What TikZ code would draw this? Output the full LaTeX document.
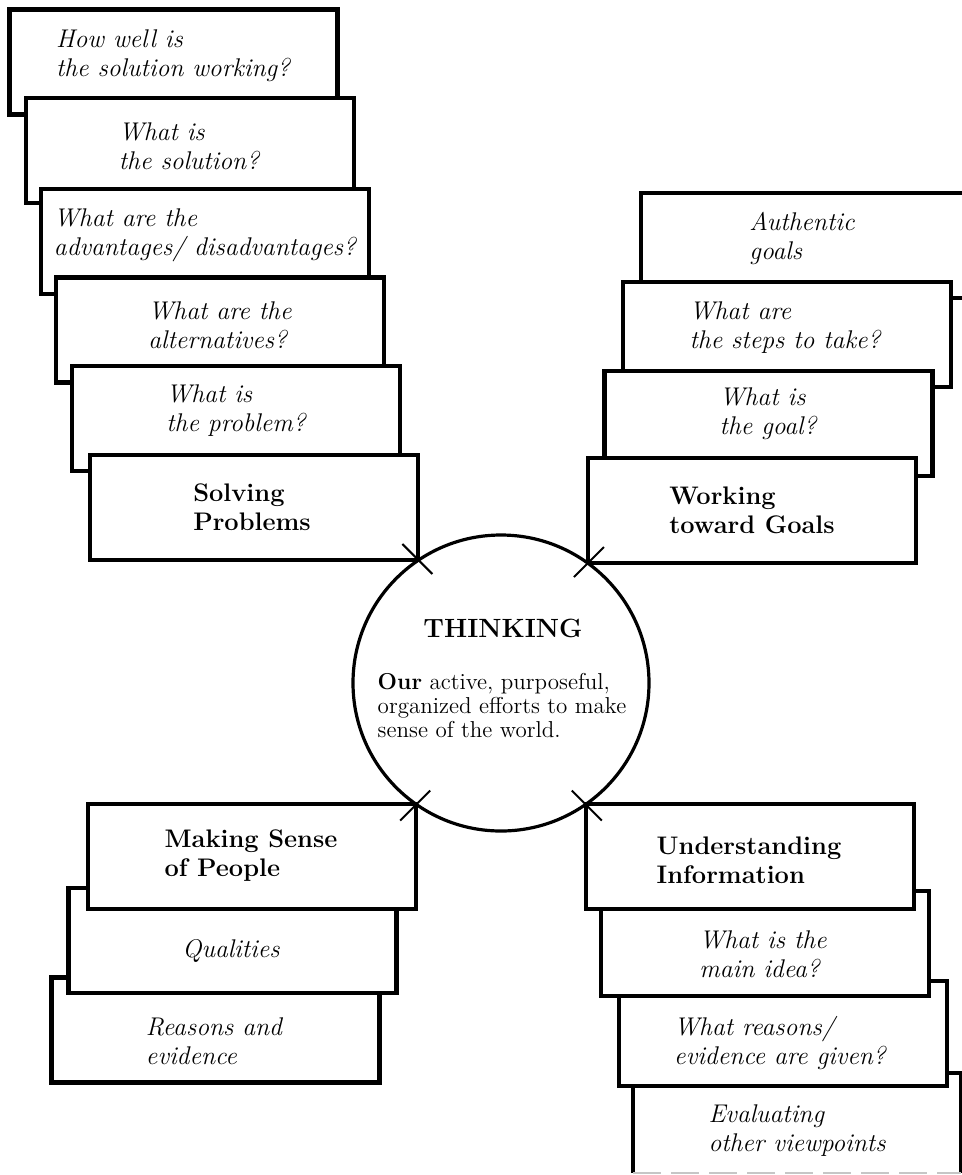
\documentclass[tikz,border=0pt]{standalone}
\usepackage{tikz}

\begin{document}
\begin{tikzpicture}[x=0.5pt,y=-0.5pt,
    card/.style={draw,fill=white,line width=2.1pt},
    question/.style={align=left,inner sep=0pt,font=\fontsize{12.8}{14.5}\selectfont\itshape},
    heading/.style={align=left,inner sep=0pt,font=\fontsize{12.7}{14.5}\selectfont\bfseries},
    tick/.style={line width=1pt}]
    \useasboundingbox (0,0) rectangle (962,1175);
    % Solving Problems stack (back card first)
    \filldraw[card] (9.5,9.5) rectangle (337.5,114.5);
    \node[question] (sp5) at (173,56) {How well is\\the solution working?};
    \filldraw[card] (26,98) rectangle (354,203);
    \node[question] (sp4) at (189,146) {What is\\the solution?};
    \filldraw[card] (41,189) rectangle (369,294);
    \node[question] (sp3) at (205,235) {What are the\\advantages/ disadvantages?};
    \filldraw[card] (56,277.5) rectangle (384,382.5);
    \node[question] (sp2) at (220,325) {What are the\\alternatives?};
    \filldraw[card] (72,366) rectangle (400,471);
    \node[question] (sp1) at (236,411) {What is\\the problem?};
    \filldraw[card] (90,455) rectangle (418,560);
    \node[heading] (solving) at (252,507.5) {Solving\\Problems};
    % Working toward Goals stack
    \filldraw[card] (641,193) rectangle (969,298);
    \node[question] (wg3) at (802,238) {Authentic\\goals};
    \filldraw[card] (623,282) rectangle (951,387);
    \node[question] (wg2) at (785,327.5) {What are\\the steps to take?};
    \filldraw[card] (604.5,371) rectangle (932.5,476);
    \node[question] (wg1) at (768,414) {What is\\the goal?};
    \filldraw[card] (588,458) rectangle (916,563);
    \node[heading] (working) at (752,510.5) {Working\\toward Goals};
    % Making Sense of People stack
    \filldraw[card] (51.5,977.5) rectangle (379.5,1082.5);
    \node[question] (mp2) at (214,1041) {Reasons and\\evidence};
    \filldraw[card] (68.5,888) rectangle (396.5,993);
    \node[question] (mp1) at (231,951) {Qualities};
    \filldraw[card] (88,804) rectangle (416,909);
    \node[heading] (people) at (251,855.5) {Making Sense\\of People};
    % Understanding Information stack (last card cut by the page edge)
    \fill[white] (633,1073) rectangle (961,1173);
    \draw[card] (633,1173) |- (961,1073) -- (961,1173);
    \draw[gray!45,line width=1pt,dash pattern=on 14pt off 5pt] (633,1173) -- (961,1173);
    \node[question] (ui3) at (797,1130.5) {Evaluating\\other viewpoints};
    \filldraw[card] (619,981) rectangle (947,1086);
    \node[question] (ui2) at (780,1043) {What reasons/\\evidence are given?};
    \filldraw[card] (601,891) rectangle (929,996);
    \node[question] (ui1) at (763,954) {What is the\\main idea?};
    \filldraw[card] (586,804) rectangle (914,909);
    \node[heading] (info) at (749,860) {Understanding\\Information};
    % THINKING circle
    \node[draw,circle,line width=1.6pt,minimum size=148pt,inner sep=0pt] (think) at (501,683) {};
    \node[font=\fontsize{13.2}{16}\selectfont\bfseries] (title) at (503,628) {THINKING};
    \node[font=\fontsize{11.5}{12}\selectfont,align=left,inner sep=0pt] (meaning) at (502,706)
      {\textbf{Our} active, purposeful,\\organized efforts to make\\sense of the world.};
    % ticks where the cards meet the circle
    \draw[tick] ([shift={(-15,-15)}]think.124) -- ([shift={(15,15)}]think.124);
    \draw[tick] ([shift={(-15,15)}]think.54) -- ([shift={(15,-15)}]think.54);
    \draw[tick] ([shift={(-15,15)}]think.235) -- ([shift={(15,-15)}]think.235);
    \draw[tick] ([shift={(-15,-15)}]think.305) -- ([shift={(15,15)}]think.305);
\end{tikzpicture}
\end{document}
